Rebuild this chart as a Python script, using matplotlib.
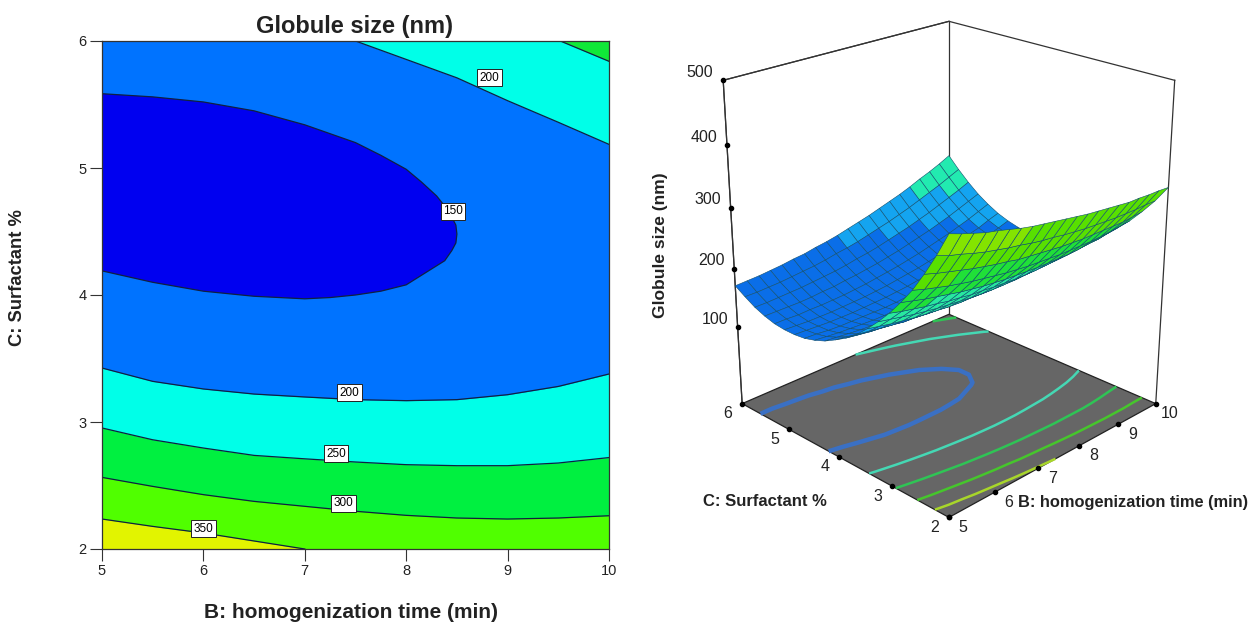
import numpy as np
import matplotlib
matplotlib.use('Agg')
import matplotlib.pyplot as plt
from mpl_toolkits.mplot3d import Axes3D, proj3d  # noqa

plt.rcParams['font.family'] = ['Liberation Sans', 'DejaVu Sans']

W, H = 1250, 623

# contour lines (B, C)
line_150_b = [5, 5.5, 6, 6.5, 7, 7.25, 7.5, 7.75, 8, 8.15, 8.3, 8.42, 8.49, 8.5, 8.49, 8.45, 8.38, 8.2, 8.1, 8, 7.75, 7.5, 7.25, 7, 6.5, 6, 5.5, 5]
line_150_c = [5.585, 5.56, 5.52, 5.45, 5.34, 5.27, 5.2, 5.10, 4.99, 4.89, 4.78, 4.66, 4.55, 4.48, 4.41, 4.35, 4.27, 4.18, 4.13, 4.08, 4.03, 4.0, 3.98, 3.97, 3.99, 4.03, 4.10, 4.19]
line_200_top_b = [7.5, 8, 8.5, 9, 9.5, 10]
line_200_top_c = [6, 5.855, 5.71, 5.53, 5.36, 5.186]
line_250_top_b = [9.52, 10]
line_250_top_c = [6, 5.84]
line_b = [5, 5.5, 6, 6.5, 7, 7.5, 8, 8.5, 9, 9.5, 10]
line_200_c = [3.425, 3.32, 3.26, 3.22, 3.197, 3.176, 3.168, 3.176, 3.215, 3.28, 3.378]
line_250_c = [2.953, 2.86, 2.795, 2.737, 2.71, 2.685, 2.664, 2.656, 2.656, 2.677, 2.72]
line_300_c = [2.564, 2.493, 2.428, 2.375, 2.336, 2.297, 2.265, 2.244, 2.236, 2.244, 2.262]
line_350_b = [5, 5.5, 6, 6.5, 7]
line_350_c = [2.236, 2.178, 2.126, 2.063, 2.0]

contour_labels = ['150', '200', '200', '250', '300', '350']
label_b = [8.46, 8.82, 7.44, 7.31, 7.38, 6.0]
label_c = [4.66, 5.71, 3.23, 2.75, 2.36, 2.16]

# response surface, rows C = 2..6, columns B = 5..10
z_rows = [
    [395, 388, 382, 376, 372, 367, 362, 358, 355, 352, 349, 346, 343, 341, 339, 337, 335, 335, 334, 334, 333],
    [357, 350, 345, 339, 334, 330, 326, 323, 319, 316, 314, 311, 309, 307, 306, 305, 304, 304, 304, 305, 305],
    [323, 317, 312, 307, 302, 298, 294, 291, 287, 285, 283, 281, 279, 278, 277, 277, 277, 277, 277, 279, 281],
    [292, 286, 281, 276, 272, 268, 265, 262, 259, 257, 255, 254, 253, 252, 252, 252, 252, 253, 255, 257, 259],
    [266, 261, 256, 252, 248, 244, 241, 238, 236, 234, 233, 232, 231, 231, 231, 231, 232, 234, 235, 238, 240],
    [242, 237, 233, 229, 226, 222, 220, 217, 216, 214, 213, 212, 212, 212, 213, 214, 215, 217, 219, 221, 224],
    [221, 217, 213, 209, 206, 203, 201, 199, 197, 196, 195, 195, 195, 196, 197, 198, 200, 202, 204, 207, 210],
    [202, 198, 194, 191, 188, 186, 184, 182, 181, 181, 180, 180, 181, 182, 183, 185, 187, 189, 192, 195, 199],
    [185, 182, 179, 176, 173, 172, 170, 169, 168, 167, 167, 168, 169, 170, 171, 174, 176, 179, 182, 186, 190],
    [171, 168, 165, 163, 161, 159, 158, 157, 157, 157, 157, 158, 159, 161, 163, 165, 168, 171, 175, 179, 183],
    [160, 157, 154, 152, 150, 149, 148, 148, 148, 148, 149, 150, 152, 154, 156, 159, 162, 166, 170, 174, 179],
    [150, 148, 146, 144, 143, 142, 141, 141, 141, 142, 143, 145, 147, 149, 152, 155, 159, 163, 167, 172, 177],
    [143, 141, 139, 138, 137, 136, 136, 137, 137, 138, 140, 142, 144, 147, 150, 153, 157, 162, 166, 172, 177],
    [138, 137, 135, 134, 134, 134, 134, 134, 135, 137, 139, 141, 144, 147, 150, 154, 159, 163, 168, 174, 180],
    [136, 135, 134, 133, 133, 133, 134, 135, 136, 138, 140, 143, 146, 149, 153, 158, 162, 167, 173, 179, 185],
    [136, 135, 134, 134, 134, 135, 136, 137, 139, 141, 144, 147, 150, 154, 158, 163, 168, 174, 179, 186, 192],
    [138, 138, 137, 138, 138, 139, 140, 142, 144, 147, 150, 153, 157, 161, 166, 171, 176, 182, 188, 195, 202],
    [143, 143, 143, 143, 144, 146, 147, 150, 152, 155, 158, 162, 166, 171, 176, 181, 187, 193, 200, 207, 214],
    [150, 150, 151, 152, 153, 155, 157, 159, 162, 166, 169, 173, 178, 183, 188, 194, 200, 207, 214, 221, 229],
    [160, 160, 161, 162, 164, 166, 168, 171, 175, 178, 182, 187, 192, 197, 203, 209, 216, 223, 230, 238, 246],
    [171, 172, 173, 175, 177, 180, 182, 186, 189, 193, 198, 203, 208, 214, 220, 226, 233, 241, 248, 256, 265],
]

floor_levels = [150, 200, 250, 300, 350]
floor_colors = ['#3a70c4', '#45d8b4', '#2fc455', '#46c62c', '#a8d62a']
floor_widths = [3.2, 1.8, 1.8, 1.8, 1.8]

z_ticks = [100, 200, 300, 400, 500]
b_ticks = [5, 6, 7, 8, 9, 10]
c_ticks = [2, 3, 4, 5, 6]
Z_FLOOR = -35
Z_TOP = 500


def draw_contour_panel(ax):
    # painted from the outer bands inwards
    ax.set_facecolor('#0073ff')
    ax.fill_between(line_b, line_200_c, 2, color='#00ffe8', lw=0, zorder=1)
    ax.fill_between(line_b, line_250_c, 2, color='#00f040', lw=0, zorder=1.1)
    ax.fill_between(line_b, line_300_c, 2, color='#50ff00', lw=0, zorder=1.2)
    ax.fill_between(line_350_b, line_350_c, 2, color='#e2f400', lw=0, zorder=1.3)
    ax.fill_between(line_200_top_b, line_200_top_c, 6, color='#00ffe8', lw=0, zorder=1)
    ax.fill_between(line_250_top_b, line_250_top_c, 6, color='#10e838', lw=0, zorder=1.1)
    ax.fill(line_150_b, line_150_c, color='#0000f0', lw=0, zorder=1)

    for xs, ys in [(line_150_b, line_150_c), (line_200_top_b, line_200_top_c),
                   (line_250_top_b, line_250_top_c), (line_b, line_200_c),
                   (line_b, line_250_c), (line_b, line_300_c), (line_350_b, line_350_c)]:
        ax.plot(xs, ys, color='#102040', lw=0.9, zorder=2)

    for txt, b, c in zip(contour_labels, label_b, label_c):
        ax.text(b, c, txt, fontsize=8.5, ha='center', va='center', zorder=3,
                bbox=dict(boxstyle='square,pad=0.2', fc='white', ec='#222222', lw=0.7))

    ax.set_xlim(5, 10)
    ax.set_ylim(2, 6)
    ax.set_xticks(b_ticks)
    ax.set_yticks(c_ticks)
    ax.tick_params(direction='out', length=8.5, width=0.8, labelsize=10.5, pad=2.5, color='#333333',
                   labelcolor='#222222')
    for s in ax.spines.values():
        s.set_color('#333333')
        s.set_linewidth(0.9)
    fig.text(355 / W, 1 - 27 / H, 'Globule size (nm)', fontsize=17, fontweight='bold',
             ha='center', va='center', color='#222222')
    fig.text(351 / W, 1 - 613 / H, 'B: homogenization time (min)', fontsize=15, fontweight='bold',
             ha='center', va='center', color='#222222')
    fig.text(18 / W, 1 - 278 / H, 'C: Surfactant %', fontsize=13.2, fontweight='bold', rotation=90,
             ha='center', va='center', color='#222222')


def cell_colors(z):
    cells = (z[:-1, :-1] + z[1:, :-1] + z[:-1, 1:] + z[1:, 1:]) / 4
    out = np.empty(cells.shape, dtype=object)
    for i in range(cells.shape[0]):
        for j in range(cells.shape[1]):
            v = cells[i, j]
            if i < 7:
                # low surfactant side, seen from below
                col = '#84e400' if v > 340 else '#58e000' if v > 290 else '#20e038' if v > 240 else '#28e8a0'
            else:
                col = '#0a6ee8' if v < 185 else '#14a4f0' if v < 225 else '#22eab0'
            out[i, j] = col
    return out


def tick_label(ax, x, y, z, txt, dx, dy):
    px, py, _ = proj3d.proj_transform(x, y, z, ax.get_proj())
    ax.annotate(txt, xy=(px, py), xycoords='data', xytext=(dx, dy), textcoords='offset pixels',
                fontsize=11.5, ha='center', va='center', color='#222222', annotation_clip=False)


def draw_surface_panel(ax):
    bb, cc = np.meshgrid(np.linspace(5, 10, 21), np.linspace(2, 6, 21))
    z = np.array(z_rows, dtype=float)

    ax.computed_zorder = False
    ax.set_axis_off()
    ax.set_proj_type('persp', focal_length=1)
    ax.set_xlim(5, 10)
    ax.set_ylim(2, 6)
    ax.set_zlim(Z_FLOOR, Z_TOP)
    ax.set_xticks([])
    ax.set_yticks([])
    ax.set_zticks([])
    ax.view_init(elev=23.2, azim=-135)
    ax.set_box_aspect((1, 1, 1.15), zoom=1.85)

    # box edges
    box = dict(color='#333333', lw=0.9, zorder=0.5)
    for b, c in [(5, 6), (10, 6), (10, 2)]:
        ax.plot([b, b], [c, c], [Z_FLOOR, Z_TOP], **box)
    ax.plot([5, 10, 10], [6, 6, 2], [Z_TOP, Z_TOP, Z_TOP], **box)
    ax.plot([5, 5], [6, 6], [Z_TOP, Z_FLOOR], **box)
    ax.plot([5, 10], [6, 6], [Z_TOP, Z_TOP], **box)

    fb, fc = np.meshgrid([5, 10], [2, 6])
    ax.plot_surface(fb, fc, np.full(fb.shape, float(Z_FLOOR)), color='#666666', shade=False,
                    edgecolor='none', zorder=1)
    ax.plot([5, 10, 10, 5, 5], [2, 2, 6, 6, 2], [Z_FLOOR] * 5, color='#222222', lw=0.9, zorder=1.5)
    ax.contour(bb, cc, z, levels=floor_levels, zdir='z', offset=Z_FLOOR, colors=floor_colors,
               linewidths=floor_widths, zorder=2)

    ax.plot_surface(bb, cc, z, facecolors=cell_colors(z), rstride=1, cstride=1, shade=False,
                    edgecolor='#12506e', linewidth=0.4, zorder=3)

    # tick dots and labels
    dot = dict(marker='o', ms=3, color='black', ls='none', zorder=4)
    ax.plot([5] * len(z_ticks), [6] * len(z_ticks), z_ticks, **dot)
    ax.plot(b_ticks, [2] * len(b_ticks), [Z_FLOOR] * len(b_ticks), **dot)
    ax.plot([5] * len(c_ticks), c_ticks, [Z_FLOOR] * len(c_ticks), **dot)
    for t in z_ticks:
        tick_label(ax, 5, 6, t, str(t), -23, 8)
    for t in b_ticks:
        tick_label(ax, t, 2, Z_FLOOR, str(t), 14, -10)
    for t in c_ticks:
        tick_label(ax, 5, t, Z_FLOOR, str(t), -14, -10)

    # the box is larger than the axes square
    for art in list(ax.collections) + list(ax.lines):
        art.set_clip_on(False)

    fig.text(660 / W, 1 - 245 / H, 'Globule size (nm)', fontsize=12.5, fontweight='bold', rotation=90,
             ha='center', va='center', color='#222222')
    fig.text(765 / W, 1 - 501 / H, 'C: Surfactant %', fontsize=12, fontweight='bold',
             ha='center', va='center', color='#222222')
    fig.text(1133 / W, 1 - 503 / H, 'B: homogenization time (min)', fontsize=11.8, fontweight='bold',
             ha='center', va='center', color='#222222')


fig = plt.figure(figsize=(W / 100, H / 100), dpi=100)
ax_left = fig.add_axes([102 / W, 1 - 549 / H, 507 / W, 508 / H])
draw_contour_panel(ax_left)

side = 292
ax_right = fig.add_axes([(945 - side / 2) / W, 1 - (253 + side / 2) / H, side / W, side / H], projection='3d')
draw_surface_panel(ax_right)

fig.savefig('out.png', dpi=100)
